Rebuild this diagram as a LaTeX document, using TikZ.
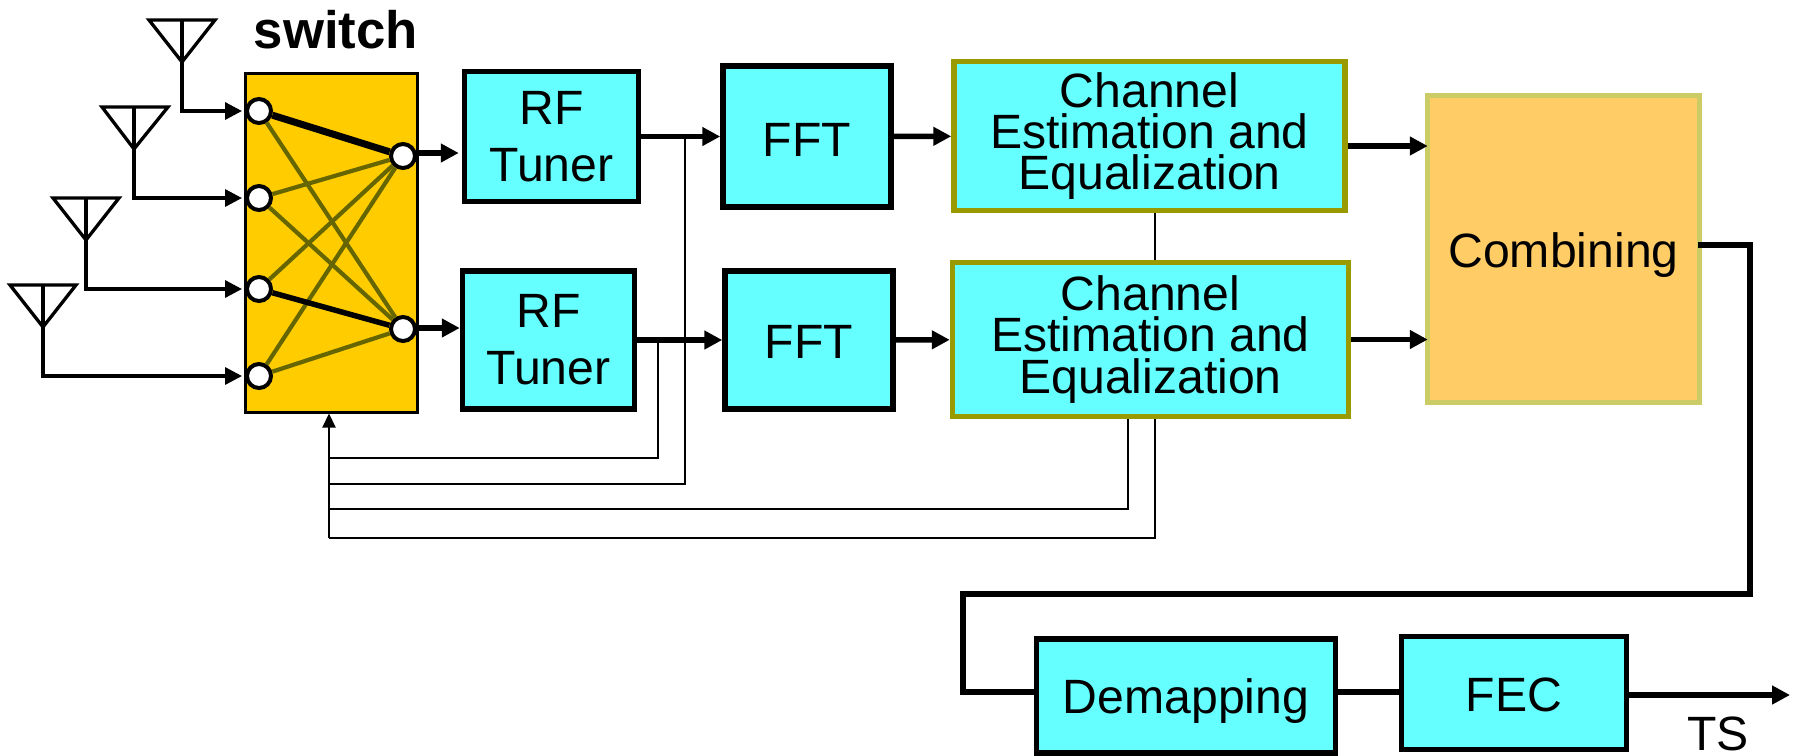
\documentclass[tikz,border=0pt]{standalone}
\usepackage{fontspec}
\setmainfont{Liberation Sans}
\usetikzlibrary{arrows.meta}
\definecolor{boxcyan}{HTML}{66FFFF}
\definecolor{switchfill}{HTML}{FFCC00}
\definecolor{combfill}{HTML}{FFCC66}
\definecolor{combline}{HTML}{CCCC66}
\definecolor{chanline}{HTML}{999900}
\definecolor{crossline}{HTML}{666600}
\tikzset{
    block/.style={draw=black,line width=0.55mm,fill=boxcyan,inner sep=0pt,align=center,
        font=\fontsize{13.7}{11.7}\selectfont},
    chanblock/.style={block,draw=chanline,minimum width=39.1mm,minimum height=14.9mm},
    port/.style={circle,draw=black,line width=0.4mm,fill=white,inner sep=0pt,minimum size=2.4mm},
    cross/.style={crossline,line width=0.42mm},
    picked/.style={black,line width=0.7mm},
    ant/.style={line width=0.33mm},
    feed/.style={line width=0.33mm,-{Triangle[length=1.7mm,width=1.7mm]}},
    bus/.style={line width=0.55mm,-{Triangle[length=1.8mm,width=1.8mm]}},
    wire/.style={line width=0.55mm},
    fb/.style={line width=0.22mm}
}
\begin{document}
\begin{tikzpicture}[x=0.1mm,y=-0.1mm]
    \useasboundingbox (0,0) rectangle (1800,755);
    % switch
    \node[draw=black,line width=0.3mm,fill=switchfill,inner sep=0pt,minimum width=17.2mm,minimum height=33.9mm] (switch) at (331.5,242.5) {};
    \node[font=\fontsize{15}{16}\selectfont\bfseries] (switchlabel) at (336,30) {switch};
    \node[port] (in1) at (259,111) {};
    \node[port] (in2) at (259,198) {};
    \node[port] (in3) at (259,289) {};
    \node[port] (in4) at (259,376) {};
    \node[port] (out1) at (403,156) {};
    \node[port] (out2) at (403,329) {};%
    \draw[cross] (in1) -- (out2);
    \draw[cross] (in2) -- (out1);
    \draw[cross] (in2) -- (out2);
    \draw[cross] (in3) -- (out1);
    \draw[cross] (in4) -- (out1);
    \draw[cross] (in4) -- (out2);
    \draw[picked] (in1) -- (out1);
    \draw[picked,line width=0.55mm] (in3) -- (out2);%
    % antennas
    \coordinate (ant1) at (182,20);
    \coordinate (ant2) at (134,107);
    \coordinate (ant3) at (86,198);
    \coordinate (ant4) at (43,285);
    \draw[ant] (149,20) -- (215,20) -- (182,62) -- cycle;
    \draw[ant] (102,107) -- (168,107) -- (134,149) -- cycle;
    \draw[ant] (53,198) -- (119,198) -- (86,240) -- cycle;
    \draw[ant] (10,285) -- (76,285) -- (43,327) -- cycle;
    \draw[feed,shorten >=0.3mm] (ant1) |- (in1.west);
    \draw[feed,shorten >=0.3mm] (ant2) |- (in2.west);
    \draw[feed,shorten >=0.3mm] (ant3) |- (in3.west);
    \draw[feed,shorten >=0.3mm] (ant4) |- (in4.west);%
    % blocks
    \node[block,minimum width=17.4mm,minimum height=13mm] (tuner1) at (551.5,136.5) {RF\\[1.6mm]Tuner};
    \node[block,minimum width=17.2mm,minimum height=13.8mm] (tuner2) at (548.5,340) {RF\\[1.6mm]Tuner};
    \node[block,minimum width=16.8mm,minimum height=14.1mm,text height=3.9mm] (fft1) at (807,136.5) {FFT};
    \node[block,minimum width=16.8mm,minimum height=13.8mm,text height=3.7mm] (fft2) at (809,340) {FFT};
    \node[chanblock] (chan1) at (1149.5,136) {Channel\\Estimation and\\Equalization};
    \node[chanblock,minimum width=39.6mm,minimum height=15.4mm] (chan2) at (1150.5,339.5) {Channel\\Estimation and\\Equalization};
    \node[block,draw=combline,fill=combfill,minimum width=27.2mm,minimum height=30.7mm,text height=4.7mm] (comb) at (1563.5,249) {Combining};
    \node[block,minimum width=29.9mm,minimum height=11.4mm,text height=4.4mm] (demap) at (1186,696) {Demapping};
    \node[block,minimum width=22.5mm,minimum height=11.3mm,text height=3.7mm] (fec) at (1514,693) {FEC};
    \node[font=\fontsize{13.7}{16}\selectfont,inner sep=0pt] (ts) at (1718,734) {TS};%
    % signal path
    \draw[bus,shorten >=0.3mm] (switch.east |- 419,153) -- (tuner1.west |- 419,153);
    \draw[bus] (switch.east |- 419,328) -- (tuner2.west |- 419,328);
    \draw[bus] (tuner1) -- (fft1);
    \draw[bus] (tuner2) -- (fft2);
    \draw[bus] (fft1) -- (chan1);
    \draw[bus] (fft2) -- (chan2);
    \coordinate (chan1out) at (1348,146);
    \coordinate (combout) at (1698,245);
    \coordinate (turn1) at (1750,594);
    \coordinate (turn2) at (963,692);
    \coordinate (tsend) at (1790,695);
    \draw[bus,shorten >=-0.3mm] (chan1out) -- (comb.west |- chan1out);
    \draw[bus,shorten >=-0.3mm] (chan2.east) -- (comb.west |- chan2.east);
    \draw[wire] (combout) -| (turn1) -| (turn2) -- (demap.west |- turn2);
    \draw[wire] (demap.east |- turn2) -- (fec.west |- turn2);
    \draw[bus] (fec.east |- tsend) -- (tsend);%
    % feedback to the switch
    \coordinate (tap1) at (658,340);
    \coordinate (tap2) at (685,136);
    \coordinate (tap3) at (1128,419);
    \coordinate (tap4) at (1155,419);
    \coordinate (fb1) at (329,458);
    \coordinate (fb2) at (329,484);
    \coordinate (fb3) at (329,509);
    \coordinate (fb4) at (329,538);
    \draw[fb] (tap1) |- (fb1);
    \draw[fb] (tap2) |- (fb2);
    \draw[fb] (tap3) |- (fb3);
    \draw[fb] (tap4) |- (fb4);
    \draw[fb,-{Triangle[length=1.4mm,width=1.3mm]}] (fb4) -- (fb4 |- switch.south);
    \draw[fb] (chan1.south -| tap4) -- (chan2.north -| tap4);%
\end{tikzpicture}
\end{document}
